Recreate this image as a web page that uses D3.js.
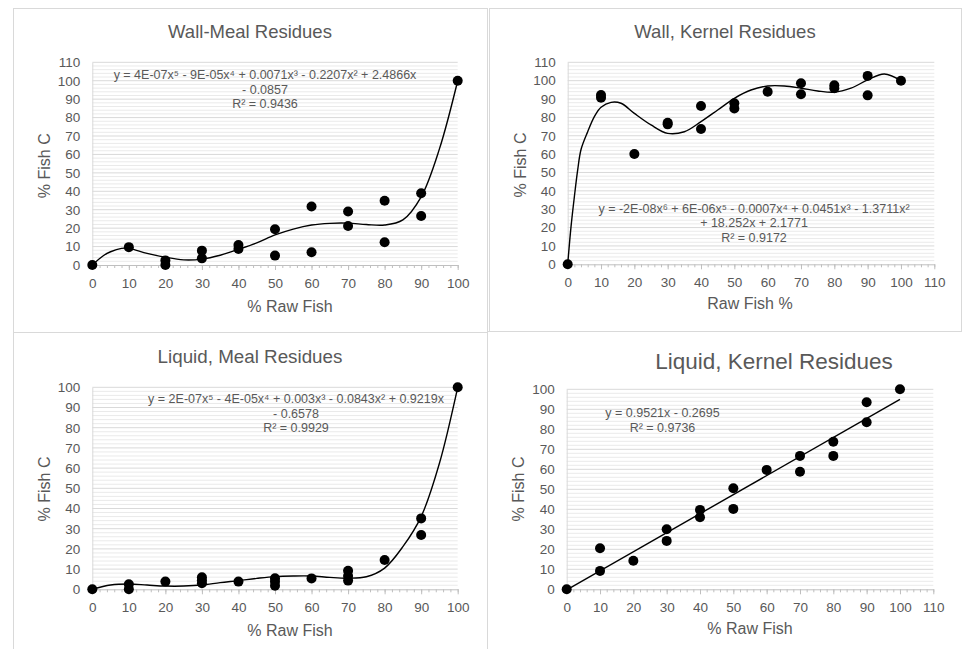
<!DOCTYPE html>
<meta charset="utf-8">
<head>
  <meta charset="utf-8">
  <title>fish carbon in residues</title>
  <script src="https://d3js.org/d3.v7.min.js"></script>
</head>

<style>
body {margin:0; background:#fff;}
text {font-family: "Liberation Sans", Arial, sans-serif; fill: #595959;}
.frame {fill: none; stroke: #d9d9d9; stroke-width: 1px;}
.grid-major {stroke: #d9d9d9; stroke-width: 1px;}
.grid-minor {stroke: #eaeaea; stroke-width: 1px;}
.trend {fill: none; stroke: #000; stroke-width: 1.4px;}
.dot {fill: #000;}
</style>

<body>
<script>

// tick labels
var ticks100 = [0,10,20,30,40,50,60,70,80,90,100];
var ticks110 = [0,10,20,30,40,50,60,70,80,90,100,110];

// Wall-Meal residues
var wallMealX = [0,10,20,20,30,30,40,40,50,50,60,60,70,70,80,80,90,90,100];
var wallMealY = [0,9.7,2.5,0,7.8,3.6,10.9,8.7,19.4,5.1,31.7,6.9,29,21.2,34.9,12.3,38.9,26.6,100];
var wallMealTrendX = [0,3,5,8,10,15,20,25,30,35,40,45,50,55,60,65,70,75,80,85,90,95,100];
var wallMealTrendY = [0,5,7.2,9,9,6.3,4.2,2.8,3.2,5.3,8.5,12,16.3,19.5,21.7,22.6,22.7,22,21.7,24.5,37,63,100];
var wallMealEq = ["y = 4E-07x\u2075 - 9E-05x\u2074 + 0.0071x\u00b3 - 0.2207x\u00b2 + 2.4866x", "- 0.0857", "R\u00b2 = 0.9436"];

// Wall, Kernel residues
var wallKernelX = [0,10,10,20,30,30,40,40,50,50,60,70,70,80,80,90,90,100];
var wallKernelY = [0,92.2,90.7,60.1,77.1,76.2,86.2,73.7,87.7,84.8,94,98.6,92.6,97.5,95.9,102.6,92,100];
var wallKernelTrendX = [0,1,2,3,4,6,8,10,13,16,20,25,30,35,40,45,50,55,60,65,70,75,80,85,90,95,100];
var wallKernelTrendY = [0,20.5,36.8,51.4,62.5,72.2,80.4,85.5,88.2,87.7,82.2,75.9,71.3,72.2,77.7,84,90.4,94.9,97.1,97.1,95.9,94.4,93.7,95.9,100.4,103.6,100];
var wallKernelEq = ["y = -2E-08x\u2076 + 6E-06x\u2075 - 0.0007x\u2074 + 0.0451x\u00b3 - 1.3711x\u00b2", "+ 18.252x + 2.1771", "R\u00b2 = 0.9172"];

// Liquid, Meal residues
var liquidMealX = [0,10,10,20,30,30,30,40,50,50,50,60,70,70,70,80,90,90,100];
var liquidMealY = [0,2.5,0,3.8,6,4.5,3,3.8,5.5,3.8,1.8,5.4,9.2,6.6,4.3,14.5,35.1,26.9,100];
var liquidMealTrendX = [0,5,10,15,20,25,30,35,40,45,50,55,60,65,70,75,80,85,90,95,100];
var liquidMealTrendY = [0,2.1,2.6,2.1,1.6,1.6,2.1,3.3,4.3,5.4,6.3,6.6,6.6,5.9,5.5,6.2,10.5,21.1,36,62.4,100];
var liquidMealEq = ["y = 2E-07x\u2075 - 4E-05x\u2074 + 0.003x\u00b3 - 0.0843x\u00b2 + 0.9219x", "- 0.6578", "R\u00b2 = 0.9929"];

// Liquid, Kernel residues
var liquidKernelX = [0,10,10,20,30,30,40,40,50,50,60,70,70,80,80,90,90,100];
var liquidKernelY = [0,20.5,9.2,14.3,30,24.2,39.7,36,50.5,40.2,59.7,66.7,58.8,73.8,66.7,93.5,83.5,100];
var liquidKernelTrendX = [0,100];
var liquidKernelTrendY = [-0.27,94.94];
var liquidKernelEq = ["y = 0.9521x - 0.2695", "R\u00b2 = 0.9736"];

var svg = d3.select("body").append("svg")
    .attr("width", 962)
    .attr("height", 649);

// panel frames
svg.append("rect").attr("class", "frame").attr("x", 13.5).attr("y", 8.5).attr("width", 474).attr("height", 324);
svg.append("rect").attr("class", "frame").attr("x", 489.5).attr("y", 8.5).attr("width", 472).attr("height", 323);
svg.append("rect").attr("class", "frame").attr("x", 13.5).attr("y", 332.5).attr("width", 474).attr("height", 330);
svg.append("rect").attr("class", "frame").attr("x", 487.5).attr("y", 331.5).attr("width", 480).attr("height", 330);

function drawPanel(p) {
  var x = d3.scaleLinear().domain([0, p.xMax]).range([p.left, p.right]);
  var y = d3.scaleLinear().domain([0, p.yMax]).range([p.bottom, p.top]);
  var g = svg.append("g");

  // gridlines, minor every 2, major every 10
  g.selectAll(".grid-minor")
    .data(d3.range(2, p.yMax + 0.1, 2).filter(function(v){ return v % 10 != 0; }))
    .enter().append("line")
      .attr("class", "grid-minor")
      .attr("x1", p.left).attr("x2", p.right)
      .attr("y1", function(d){ return y(d); }).attr("y2", function(d){ return y(d); });
  g.selectAll(".grid-major")
    .data(p.yTicks.slice(1))
    .enter().append("line")
      .attr("class", "grid-major")
      .attr("x1", p.left).attr("x2", p.right)
      .attr("y1", function(d){ return y(d); }).attr("y2", function(d){ return y(d); });

  // Y axis
  var ya = g.append("g")
      .attr("transform", "translate(" + p.left + ",0)")
      .call(d3.axisLeft(y).tickValues(p.yTicks).tickSize(0).tickPadding(12));
  ya.select(".domain").attr("stroke", "#d9d9d9");

  // X axis, minor ticks first
  var xm = g.append("g")
      .attr("transform", "translate(0," + p.bottom + ")")
      .call(d3.axisBottom(x).tickValues(d3.range(0, p.xMax + 0.1, 2)).tickSize(3).tickFormat(""));
  xm.select(".domain").remove();
  xm.selectAll("line").attr("stroke", "#bfbfbf");
  var xa = g.append("g")
      .attr("transform", "translate(0," + p.bottom + ")")
      .call(d3.axisBottom(x).tickValues(p.xTicks).tickSize(5).tickSizeOuter(0).tickPadding(8));
  xa.select(".domain").attr("stroke", "#bfbfbf");
  xa.selectAll("line").attr("stroke", "#bfbfbf");

  g.selectAll(".tick text")
    .style("font-size", "13.5px")
    .attr("fill", "#595959");

  // trendline
  var pts = p.trendX.map(function(v, i){ return [v, p.trendY[i]]; });
  var line = d3.line()
      .x(function(d){ return x(d[0]); })
      .y(function(d){ return y(d[1]); })
      .curve(d3.curveCatmullRom.alpha(0.5));
  g.append("path")
    .datum(pts)
    .attr("class", "trend")
    .attr("d", line);

  // points
  g.selectAll(".dot")
    .data(p.xs.map(function(v, i){ return [v, p.ys[i]]; }))
    .enter().append("circle")
      .attr("class", "dot")
      .attr("r", 5)
      .attr("cx", function(d){ return x(d[0]); })
      .attr("cy", function(d){ return y(d[1]); });

  // title
  g.append("text")
    .attr("x", p.titleX).attr("y", p.titleY)
    .attr("text-anchor", "middle")
    .style("font-size", p.titleSize + "px")
    .text(p.title);

  // equation
  p.eq.forEach(function(s, i){
    g.append("text")
      .attr("x", p.eqX).attr("y", p.eqY + i * 14.5)
      .attr("text-anchor", "middle")
      .style("font-size", "12.5px")
      .text(s);
  });

  // axis titles
  g.append("text")
    .attr("x", p.xLabelX).attr("y", p.xLabelY)
    .attr("text-anchor", "middle")
    .style("font-size", "16px")
    .text(p.xLabel);
  g.append("text")
    .attr("transform", "translate(" + p.yLabelX + "," + p.yLabelY + ") rotate(-90)")
    .attr("text-anchor", "middle")
    .style("font-size", "16px")
    .text("% Fish C");
}

drawPanel({xs: wallMealX, ys: wallMealY, trendX: wallMealTrendX, trendY: wallMealTrendY,
  xMax: 100, yMax: 110, xTicks: ticks100, yTicks: ticks110,
  left: 92.3, right: 457.7, top: 62.3, bottom: 265,
  title: "Wall-Meal  Residues", titleX: 250, titleY: 38.3, titleSize: 18.5,
  eq: wallMealEq, eqX: 265, eqY: 79,
  xLabel: "% Raw Fish", xLabelX: 290, xLabelY: 311.5, yLabelX: 50, yLabelY: 165.7});

drawPanel({xs: wallKernelX, ys: wallKernelY, trendX: wallKernelTrendX, trendY: wallKernelTrendY,
  xMax: 110, yMax: 110, xTicks: ticks110, yTicks: ticks110,
  left: 567.7, right: 934.3, top: 62.3, bottom: 264.3,
  title: "Wall, Kernel Residues", titleX: 725, titleY: 38.3, titleSize: 18.5,
  eq: wallKernelEq, eqX: 754, eqY: 212.8,
  xLabel: "Raw Fish %", xLabelX: 750, xLabelY: 309, yLabelX: 526, yLabelY: 165});

drawPanel({xs: liquidMealX, ys: liquidMealY, trendX: liquidMealTrendX, trendY: liquidMealTrendY,
  xMax: 100, yMax: 100, xTicks: ticks100, yTicks: ticks100,
  left: 92.3, right: 457.7, top: 387.3, bottom: 589.3,
  title: "Liquid, Meal Residues", titleX: 250, titleY: 363.3, titleSize: 18.8,
  eq: liquidMealEq, eqX: 296, eqY: 403.2,
  xLabel: "% Raw Fish", xLabelX: 290, xLabelY: 636, yLabelX: 50, yLabelY: 489});

drawPanel({xs: liquidKernelX, ys: liquidKernelY, trendX: liquidKernelTrendX, trendY: liquidKernelTrendY,
  xMax: 110, yMax: 100, xTicks: ticks110, yTicks: ticks100,
  left: 566.7, right: 933.3, top: 389.3, bottom: 589.3,
  title: "Liquid, Kernel Residues", titleX: 774, titleY: 369.3, titleSize: 22.5,
  eq: liquidKernelEq, eqX: 662.5, eqY: 417,
  xLabel: "% Raw Fish", xLabelX: 750, xLabelY: 634, yLabelX: 523.7, yLabelY: 489});

</script>
</body>
